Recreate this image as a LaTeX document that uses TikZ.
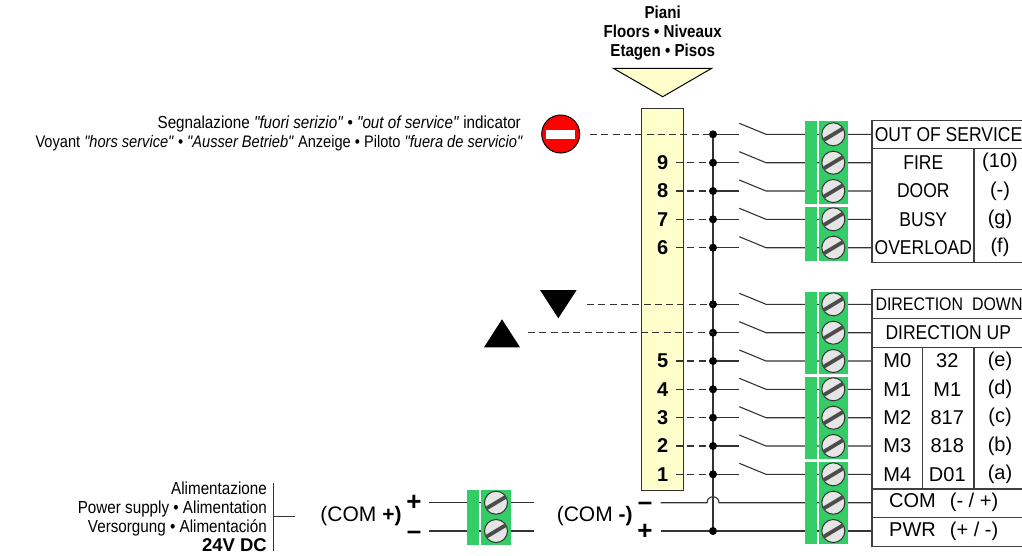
\documentclass[tikz,border=0pt]{standalone}
\usepackage{fontspec}
\setmainfont{Liberation Sans}
\newfontfamily\narrowfont[FakeStretch=0.875]{Liberation Sans}
\begin{document}
\begin{tikzpicture}
      [x=1pt,y=-1pt,
      ink/.style={draw=black!75,line width=1.1pt},
      wire/.style={draw=black!80,line width=1.1pt},
      dashwire/.style={wire,dash pattern=on 7pt off 4.3pt},
      strip/.style={fill=termgreen,draw=none},
      screw/.style={circle,draw=black!80,fill=black!10,line width=1pt,minimum size=23pt,inner sep=0pt},
      slot/.style={draw=black!70,line width=3.8pt},
      dot/.style={circle,fill=black,inner sep=0pt,minimum size=8pt},
      tablab/.style={font=\narrowfont\fontsize{20}{22}\selectfont,inner sep=0pt},
      collab/.style={font=\fontsize{20}{22}\selectfont,inner sep=0pt},
      floorlab/.style={font=\bfseries\fontsize{20}{22}\selectfont,inner sep=0pt},
      sidelab/.style={font=\narrowfont\fontsize{17.4}{19}\selectfont,inner sep=0pt,align=right},
      signlab/.style={font=\bfseries\fontsize{26}{26}\selectfont,inner sep=0pt}]
      \definecolor{termgreen}{RGB}{51,204,102}
      \definecolor{barfill}{RGB}{255,255,204}
      \useasboundingbox (0,0) rectangle (1022,555);
      % floor bar
      \node[draw=black!80,fill=barfill,line width=1pt,minimum width=42pt,minimum height=381.7pt,inner sep=0pt] (bar) at (662.7,299.2) {};
      \coordinate (tipl) at (613.3,68.3);
      \coordinate (tipr) at (711.7,68.3);
      \coordinate (tipb) at (662.7,96.7);
      \filldraw[fill=barfill,draw=black,line width=1pt] (tipl) -- (tipr) -- (tipb) -- cycle;
      \node[font=\bfseries\narrowfont\fontsize{17.3}{19}\selectfont,align=center,inner sep=0pt] (title) at (662.7,33) {Piani\\Floors • Niveaux\\Etagen • Pisos};
      % contact rows
      \foreach \r/\y in {1/134.3,2/162.7,3/191,4/219.3,5/247.7,6/304.3,7/332.7,8/361,9/389.3,10/417.7,11/446,12/474.3} {
        \coordinate (bus\r) at (713,\y);
        \coordinate (swa\r) at (739.3,\y);
        \coordinate (swu\r) at (739.3,\y-11);
        \coordinate (swb\r) at (766,\y);
        \coordinate (pin\r) at (833.3,\y);
        \coordinate (tab\r) at (872,\y);
        \draw[wire] (bus\r) -- (swa\r);
        \draw[wire] (swu\r) -- (swb\r) -- (pin\r) -- (tab\r);
      }
      \coordinate (pin13) at (833.3,502.7);
      \coordinate (pin14) at (833.3,531);
      \coordinate (tab13) at (872,502.7);
      \coordinate (tab14) at (872,531);
      % floor numbers
      \foreach \r/\n in {2/9,3/8,4/7,5/6,8/5,9/4,10/3,11/2,12/1} {
        \node[floorlab] (num\n) at (662.7,0 |- bus\r) {\n};
        \coordinate (dash\n) at (676,0 |- bus\r);
        \draw[dashwire] (dash\n) -- (bus\r);
      }
      % bus and supply
      \coordinate (busend) at (713,531);
      \draw[wire] (bus1) -- (busend);
      \coordinate (compa) at (660.7,502.7);
      \coordinate (compb) at (660.7,531);
      \draw[wire] (compa) -- (707,502.7) arc[start angle=180,end angle=360,radius=6] -- (pin13) -- (tab13);
      \draw[wire] (compb) -- (pin14) -- (tab14);
      % terminal blocks
      \foreach \ya/\yb in {121.3/204.3,206.7/261,291.7/374.3,376.7/459.3,461.7/544.3} {
        \fill[strip] (805,\ya) rectangle (817,\yb);
        \fill[strip] (819,\ya) rectangle (848,\yb);
      }
      \foreach \r in {1,...,14} {
        \node[screw] (scr\r) at (pin\r) {};
        \draw[slot] ([shift={(-10,6)}]scr\r.center) -- ([shift={(10,-6)}]scr\r.center);
      }
      \foreach \r in {1,...,12} {
        \node[dot] at (bus\r) {};
      }
      \node[dot] at (busend) {};
      % small supply block
      \coordinate (pina) at (496,502.7);
      \coordinate (pinb) at (496,531);
      \coordinate (ina) at (429,502.7);
      \coordinate (inb) at (429,531);
      \coordinate (outa) at (534,502.7);
      \coordinate (outb) at (534,531);
      \draw[wire] (ina) -- (outa);
      \draw[wire] (inb) -- (outb);
      \fill[strip] (467.3,490) rectangle (479.3,545);
      \fill[strip] (481,490) rectangle (510.7,545);
      \node[screw] (scra) at (pina) {};
      \node[screw] (scrb) at (pinb) {};
      \draw[slot] ([shift={(-10,6)}]scra.center) -- ([shift={(10,-6)}]scra.center);
      \draw[slot] ([shift={(-10,6)}]scrb.center) -- ([shift={(10,-6)}]scrb.center);
      \node[signlab] (plusa) at (414,503) {+};
      \node[signlab] (minusa) at (414,535) {–};
      \node[signlab] (minusb) at (645,506.5) {–};
      \node[signlab] (plusb) at (645,531.7) {+};
      \node[font=\fontsize{21}{22}\selectfont,inner sep=0pt] (coma) at (361,516) {(COM \textbf{+)}};
      \node[font=\fontsize{21}{22}\selectfont,inner sep=0pt] (comb) at (594.7,516) {(COM \textbf{-)}};
      % power label
      \node[sidelab,anchor=east] (power) at (267,516.5) {Alimentazione\\Power supply • Alimentation\\Versorgung • Alimentación\\{\normalfont\bfseries\fontsize{18.5}{19}\selectfont 24V DC}};
      \coordinate (brt) at (273.5,483);
      \coordinate (brb) at (273.5,551);
      \coordinate (brm) at (273.5,516.7);
      \coordinate (brr) at (295,516.7);
      \draw[wire] (brt) -- (brb);
      \draw[wire] (brm) -- (brr);
      % indicators
      \node[circle,draw=black,fill=red,line width=1pt,minimum size=38pt,inner sep=0pt] (stop) at (560.7,134) {};
      \node[fill=white,minimum width=29pt,minimum height=9pt,inner sep=0pt] (stopbar) at (stop) {};
      \node[sidelab,anchor=east] (servlaba) at (521,123.5) {Segnalazione \textit{"fuori serizio"} • \textit{"out of service"} indicator};
      \node[sidelab,font=\narrowfont\fontsize{16.7}{19}\selectfont,anchor=east] (servlabb) at (523,143) {Voyant \textit{"hors service"} • \textit{"Ausser Betrieb"} Anzeige • Piloto \textit{"fuera de servicio"}};
      \coordinate (stopw) at (590,134.3);
      \draw[dashwire] (stopw) -- (bus1);
      \coordinate (dna) at (540,290);
      \coordinate (dnb) at (576.7,290);
      \coordinate (dnc) at (558.3,318.3);
      \fill (dna) -- (dnb) -- (dnc) -- cycle;
      \coordinate (upa) at (484,347.3);
      \coordinate (upb) at (520,347.3);
      \coordinate (upc) at (502,319.3);
      \fill (upa) -- (upb) -- (upc) -- cycle;
      \coordinate (dnw) at (587,304.3);
      \coordinate (upw) at (528,332.7);
      \draw[dashwire] (dnw) -- (bus6);
      \draw[dashwire] (upw) -- (bus7);
      % tables
      \coordinate (ta) at (1022,120.7);
      \coordinate (tb) at (872,120.7);
      \coordinate (tc) at (872,262.3);
      \coordinate (td) at (1022,262.3);
      \draw[ink] (ta) -- (tb) -- (tc) -- (td);
      \coordinate (te) at (872,148.3);
      \coordinate (tf) at (1022,148.3);
      \draw[ink] (te) -- (tf);
      \coordinate (tg) at (974,148.3);
      \coordinate (th) at (974,262.3);
      \draw[ink] (tg) -- (th);
      \coordinate (la) at (1022,289.3);
      \coordinate (lb) at (872,289.3);
      \coordinate (lc) at (872,546.7);
      \coordinate (ld) at (1022,546.7);
      \draw[ink] (la) -- (lb) -- (lc) -- (ld);
      \foreach \n/\y in {1/318.3,2/347.3,3/489,4/517.3} {
        \coordinate (ll\n) at (872,\y);
        \coordinate (lr\n) at (1022,\y);
        \draw[ink] (ll\n) -- (lr\n);
      }
      \coordinate (va) at (922.3,347.3);
      \coordinate (vb) at (922.3,489);
      \coordinate (vc) at (974,347.3);
      \coordinate (vd) at (974,489);
      \draw[ink] (va) -- (vb);
      \draw[ink] (vc) -- (vd);
      % table texts
      \node[tablab] (lab1) at (948.5,134.3) {OUT OF SERVICE};
      \node[tablab] (lab2) at (923.3,162.7) {FIRE};
      \node[tablab] (lab3) at (923.3,191) {DOOR};
      \node[tablab] (lab4) at (923.3,219.3) {BUSY};
      \node[tablab] (lab5) at (923.3,247.7) {OVERLOAD};
      \node[tablab,font=\narrowfont\fontsize{18.2}{22}\selectfont] (lab6) at (949,304.3) {DIRECTION\hspace{9pt}DOWN};
      \node[tablab] (lab7) at (948.3,332.7) {DIRECTION UP};
      \foreach \r/\b in {2/(10),3/(-),4/(g),5/(f)} {
        \node[collab] (ext\r) at (1000,0 |- bus\r) {\b};
      }
      \foreach \r/\a/\b/\c in {8/M0/32/(e),9/M1/M1/(d),10/M2/817/(c),11/M3/818/(b),12/M4/D01/(a)} {
        \node[collab] (cola\r) at (897.3,0 |- bus\r) {\a};
        \node[collab] (colb\r) at (947.3,0 |- bus\r) {\b};
        \node[collab] (colc\r) at (1000,0 |- bus\r) {\c};
      }
      \node[collab] (lab13) at (943.7,502.7) {COM\hspace{14pt}(- / +)};
      \node[collab] (lab14) at (943.7,531) {PWR\hspace{14pt}(+ / -)};
    \end{tikzpicture}
\end{document}
